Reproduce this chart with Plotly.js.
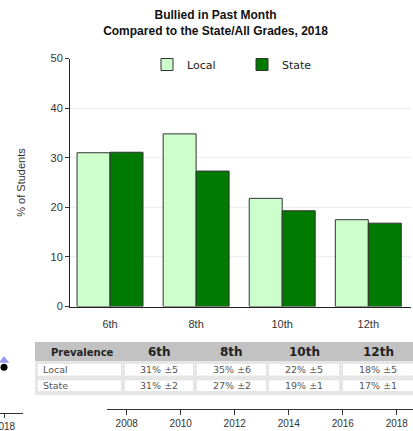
<!DOCTYPE html>
<html>
<head>
<meta charset="utf-8">
<script src="https://cdn.plot.ly/plotly-3.0.1.min.js"></script>
<style>html,body{margin:0;padding:0;background:#fff;}#chart{width:413px;height:431px;}</style>
</head>
<body>
<div id="chart"></div>
<script>
// ---- data ----
const grades = ['6th', '8th', '10th', '12th'];
const localValues = [31.0, 34.8, 21.8, 17.5];
const stateValues = [31.1, 27.3, 19.3, 16.8];
const localPrevalence = ['31% ±5', '35% ±6', '22% ±5', '18% ±5'];
const statePrevalence = ['31% ±2', '27% ±2', '19% ±1', '17% ±1'];
const rowLabels = ['Local', 'State'];
const tableHeader = ['Prevalence', '6th', '8th', '10th', '12th'];
const trendYears = [2008, 2010, 2012, 2014, 2016, 2018];
const ghostYear = [2018];
const ghostLocal = [27];
const ghostState = [31];

const W = 413, H = 431;
const px = v => v / W;
const py = v => 1 - v / H;

const traces = [
  {
    type: 'bar', name: 'Local', x: grades, y: localValues,
    marker: {color: '#ccffcc', line: {color: '#333333', width: 1}},
    hoverinfo: 'skip'
  },
  {
    type: 'bar', name: 'State', x: grades, y: stateValues,
    marker: {color: '#007a00', line: {color: '#333333', width: 1}},
    hoverinfo: 'skip'
  },
  {
    type: 'scatter', mode: 'markers', x: ghostYear, y: ghostState,
    xaxis: 'x3', yaxis: 'y3', showlegend: false, hoverinfo: 'skip',
    marker: {symbol: 'triangle-up', size: 9, color: '#9a9af0'}
  },
  {
    type: 'scatter', mode: 'markers', x: ghostYear, y: ghostLocal,
    xaxis: 'x3', yaxis: 'y3', showlegend: false, hoverinfo: 'skip',
    marker: {symbol: 'circle', size: 7, color: '#000000'}
  },
  {
    type: 'scatter', mode: 'none', x: trendYears, y: trendYears.map(() => -10),
    xaxis: 'x2', yaxis: 'y3', showlegend: false, hoverinfo: 'skip'
  }
];

// ---- prevalence table (shapes + annotations) ----
const colBounds = [[38, 121], [125, 193], [197, 266], [269, 339], [343, 413]];
const rowBounds = [[364, 375.5], [380.5, 391]];
const headerTop = 342, headerBottom = 361, panelBottom = 395, panelLeft = 35;
const tableRows = [
  [rowLabels[0]].concat(localPrevalence),
  [rowLabels[1]].concat(statePrevalence)
];

const shapes = [
  {type: 'rect', xref: 'paper', yref: 'paper', x0: px(panelLeft), x1: 1, y0: py(panelBottom), y1: py(headerTop),
   fillcolor: '#e6e6e6', line: {width: 0}, layer: 'below'},
  {type: 'rect', xref: 'paper', yref: 'paper', x0: px(panelLeft), x1: 1, y0: py(headerBottom), y1: py(headerTop),
   fillcolor: '#c2c2c2', line: {width: 0}, layer: 'below'}
];
const annotations = [];
const cellFont = {family: 'DejaVu Sans', size: 9.5, color: '#555555'};

tableHeader.forEach((h, c) => {
  const cx = (colBounds[c][0] + colBounds[c][1]) / 2 + (c === 0 ? 3 : 0);
  annotations.push({
    xref: 'paper', yref: 'paper', x: px(cx), y: py((headerTop + headerBottom) / 2 + 0.5),
    xanchor: 'center', yanchor: 'middle', showarrow: false,
    text: '<b>' + h + '</b>',
    font: {family: 'DejaVu Sans', size: c === 0 ? 10 : 12, color: '#222222'}
  });
});
tableRows.forEach((row, r) => {
  row.forEach((val, c) => {
    shapes.push({type: 'rect', xref: 'paper', yref: 'paper',
      x0: px(colBounds[c][0]), x1: px(colBounds[c][1]), y0: py(rowBounds[r][1]), y1: py(rowBounds[r][0]),
      fillcolor: '#ffffff', line: {width: 0}, layer: 'below'});
    const left = c === 0;
    annotations.push({
      xref: 'paper', yref: 'paper',
      x: left ? px(colBounds[c][0] + 3) : px((colBounds[c][0] + colBounds[c][1]) / 2),
      y: py((rowBounds[r][0] + rowBounds[r][1]) / 2),
      xanchor: left ? 'left' : 'center', yanchor: 'middle', showarrow: false,
      text: val, font: cellFont
    });
  });
});

const tickFont = {family: 'Liberation Sans, Arial, sans-serif', size: 11, color: '#333333'};

const layout = {
  width: W, height: H,
  margin: {l: 0, r: 0, t: 0, b: 0},
  paper_bgcolor: '#ffffff', plot_bgcolor: 'rgba(0,0,0,0)',
  barmode: 'group', bargap: 0.234, bargroupgap: 0,
  showlegend: true,
  title: {
    text: '<b>Bullied in Past Month</b><br><b>Compared to the State/All Grades, 2018</b>',
    font: {family: 'Liberation Sans, Arial, sans-serif', size: 12, color: '#111111'},
    x: 215.5 / W, xanchor: 'center', xref: 'container',
    y: 1 - 19 / H, yanchor: 'top', yref: 'container'
  },
  legend: {
    orientation: 'h', x: px(147), y: py(50), xanchor: 'left', yanchor: 'top',
    font: {family: 'DejaVu Sans', size: 11, color: '#222222'},
    bgcolor: 'rgba(0,0,0,0)', entrywidth: 50, entrywidthmode: 'pixels',
    traceorder: 'normal'
  },
  xaxis: {
    domain: [px(70), px(411.35)], range: [-0.465, 3.5],
    showline: true, linecolor: '#222222', linewidth: 1,
    ticks: '', tickfont: tickFont, showgrid: false, zeroline: false,
    ticklabelstandoff: 7, fixedrange: true
  },
  yaxis: {
    domain: [py(306.5), py(58.5)], range: [0, 50], dtick: 10,
    showline: true, linecolor: '#222222', linewidth: 1,
    ticks: 'outside', ticklen: 4, tickcolor: '#333333',
    tickfont: tickFont, showgrid: true, gridcolor: '#ececec', zeroline: false,
    title: {text: '% of Students', font: {family: 'Liberation Sans, Arial, sans-serif', size: 11, color: '#333333'}, standoff: 22},
    fixedrange: true
  },
  xaxis2: {
    domain: [px(106.7), 1], range: [2007.26, 2018.6], anchor: 'free', position: py(409),
    tickvals: trendYears, ticks: 'outside', ticklen: 5, tickcolor: '#333333',
    showline: true, linecolor: '#333333', showgrid: false, zeroline: false,
    tickfont: {family: 'Liberation Sans, Arial, sans-serif', size: 10, color: '#333333'},
    ticklabeloverflow: 'allow', fixedrange: true
  },
  xaxis3: {
    domain: [0, px(22.7)], range: [2017.85, 2018.7], anchor: 'y3',
    tickvals: ghostYear, ticks: 'outside', ticklen: 4, tickcolor: '#333333',
    showline: true, linecolor: '#333333', showgrid: false, zeroline: false,
    tickfont: {family: 'Liberation Sans, Arial, sans-serif', size: 10, color: '#333333'},
    ticklabeloverflow: 'allow', fixedrange: true
  },
  yaxis3: {
    domain: [py(412.7), py(244.7)], range: [0, 100], visible: false, fixedrange: true
  },
  shapes: shapes,
  annotations: annotations
};

Plotly.newPlot('chart', traces, layout, {displayModeBar: false, staticPlot: true});
</script>
</body>
</html>
